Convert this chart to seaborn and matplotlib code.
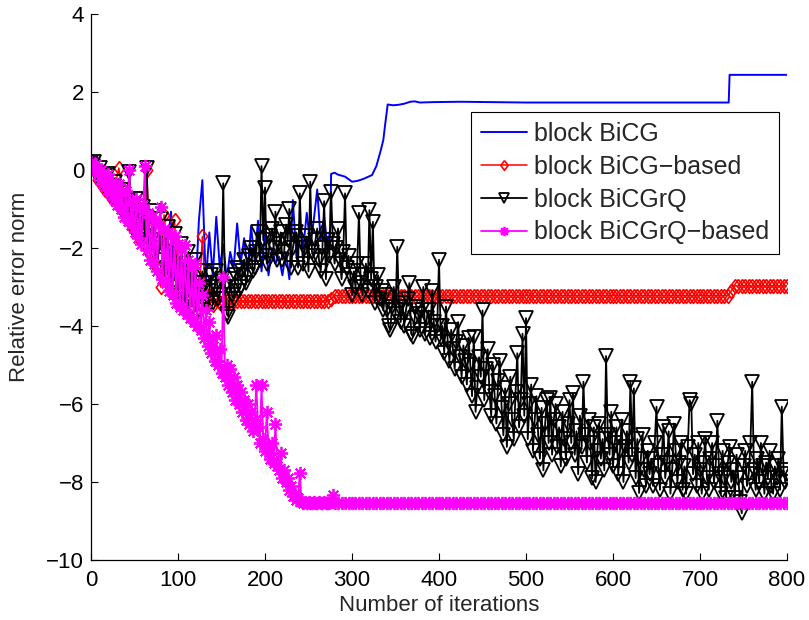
import numpy as np
import matplotlib
matplotlib.use("Agg")
import matplotlib.pyplot as plt
from matplotlib import font_manager
import seaborn as sns

# block BiCG: noisy start, then a smooth rise and a late jump
bicg_iter = list(range(0, 273, 4)) + [
    275, 276, 280, 284, 292, 300, 306, 313, 323, 328, 333, 336, 338, 340, 341,
    347, 353, 360, 367, 372, 378, 393, 424, 500, 600, 700, 733, 734, 800]
bicg_err = [
    0.1, -0.1, 0.0, -0.4, -0.2, -0.6, -0.4, -0.85, -0.5, -1.1,
    -0.7, -1.3, -0.9, -1.6, -1.1, -1.8, -1.3, -2.1, -1.5, -2.4,
    -1.7, -2.6, -1.9, -1.07, -2.8, -2.1, -3.0, -2.3, -3.1, -2.5,
    -3.2, -1.3, -0.26, -2.9, -1.6, -2.7, -1.2, -2.5, -1.9, -2.8,
    -2.1, -2.5, -1.37, -2.4, -1.75, -2.6, -1.45, -2.3, -1.3, -2.6,
    -1.6, -2.7, -2.0, -2.4, -2.22, -2.7, -2.1, -2.8, -0.77, -2.2,
    -1.4, -2.0, -1.1, -1.9, -1.3, -0.5, -1.8, -1.2, -2.0,
    -1.5, -0.1, -0.07, -0.12, -0.17, -0.3, -0.28, -0.23, -0.13, 0.1,
    0.5, 0.77, 1.15, 1.5, 1.68, 1.66, 1.67, 1.7, 1.75, 1.76,
    1.73, 1.74, 1.75, 1.73, 1.73, 1.73, 1.73, 2.44, 2.44]

# block BiCG-based (every 4th iteration)
bicg_based_iter = list(range(0, 801, 4))
bicg_based_err = [
    0.1, 0.0, -0.25, -0.05, -0.5, -0.2, -0.75, -0.35, 0.05, -0.6,
    -1.2, -0.7, -1.5, -0.9, -1.8, -1.1, 0.0, -2.1, -1.3, -2.5,
    -3.0, -1.15, -2.7, -1.8, -1.28, -3.1, -2.2, -3.3, -2.5, -3.5,
    -2.8, -3.4, -1.7, -3.5, -3.2, -3.45, -3.3, -3.4, -3.36,
    -3.36, -3.36, -3.36, -3.36, -3.36, -3.36, -3.36, -3.36, -3.36, -3.36,
    -3.36, -3.36, -3.36, -3.36, -3.36, -3.36, -3.36, -3.36, -3.36, -3.36,
    -3.36, -3.36, -3.36, -3.36, -3.36, -3.36, -3.36, -3.36, -3.36, -3.36,
    -3.3, -3.22,
    -3.22, -3.22, -3.22, -3.22, -3.22, -3.22, -3.22, -3.22, -3.22, -3.22,
    -3.22, -3.22, -3.22, -3.22, -3.22, -3.22, -3.22, -3.22, -3.22, -3.22,
    -3.22, -3.22, -3.22, -3.22, -3.22, -3.22, -3.22, -3.22, -3.22, -3.22,
    -3.22, -3.22, -3.22, -3.22, -3.22, -3.22, -3.22, -3.22, -3.22, -3.22,
    -3.22, -3.22, -3.22, -3.22, -3.22, -3.22, -3.22, -3.22, -3.22, -3.22,
    -3.22, -3.22, -3.22, -3.22, -3.22, -3.22, -3.22, -3.22, -3.22, -3.22,
    -3.22, -3.22, -3.22, -3.22, -3.22, -3.22, -3.22, -3.22, -3.22, -3.22,
    -3.22, -3.22, -3.22, -3.22, -3.22, -3.22, -3.22, -3.22, -3.22, -3.22,
    -3.22, -3.22, -3.22, -3.22, -3.22, -3.22, -3.22, -3.22, -3.22, -3.22,
    -3.22, -3.22, -3.22, -3.22, -3.22, -3.22, -3.22, -3.22, -3.22, -3.22,
    -3.22, -3.22, -3.22, -3.22, -3.22, -3.22, -3.22, -3.22, -3.22, -3.22,
    -3.22, -3.22, -3.22,
    -3.1, -2.97,
    -2.97, -2.97, -2.97, -2.97, -2.97, -2.97, -2.97, -2.97, -2.97, -2.97,
    -2.97, -2.97, -2.97, -2.97, -2.97]

# block BiCGrQ (every 2nd iteration)
bicgrq_iter = list(range(0, 801, 2))
bicgrq_err = [
    # 0 - 130
    0.15, 0.1, 0.2, -0.05, -0.2, 0.05, -0.1, -0.35, -0.45, -0.15,
    -0.1, -0.5, -0.7, -0.4, -0.3, -0.8, -0.95, -0.6, -0.5, -1.1,
    -1.25, -0.8, -0.05, -0.9, -1.5, -1.2, -0.75, -1.6, -1.8, -1.3,
    -0.95, -1.7, 0.05, -1.5, -2.2, -1.8, -1.05, -2.0, -2.5, -1.9,
    -1.25, -2.3, -2.8, -2.1, -1.45, -2.5, -3.0, -2.4, -1.65, -2.7,
    -3.3, -2.6, -1.9, -2.9, -3.4, -2.8, -2.1, -3.1, -3.5, -2.9,
    -2.3, -3.2, -3.6, -3.0, -2.6, -3.3,
    # 132 - 300
    -2.9, -3.5, -3.1, -2.7, -3.4, -3.0, -2.6, -3.3, -3.2, -2.8,
    -0.34, -3.0, -3.7, -3.76, -2.8, -3.2, -3.3, -2.7, -2.5, -3.1,
    -3.0, -2.6, -2.3, -2.9, -2.7, -2.2, -2.0, -2.6, -2.5, -2.1,
    -1.6, -2.3, 0.1, -1.8, -0.45, -2.4, -2.2, -1.7, -1.5, -2.0,
    -1.07, -2.3, -1.9, -1.6, -2.3, -2.1, -1.4, -1.8, -1.0, -2.5,
    -2.0, -1.7, -1.6, -2.5, -0.6, -1.9, -2.4, -2.0, -1.7, -2.6,
    -0.3, -2.1, -2.2, -1.8, -1.5, -2.3, -2.6, -2.0, -0.8, -2.8,
    -1.8, -2.2, -0.56, -1.9, -2.4, -2.0, -1.5, -2.3, -2.8, -2.1,
    -0.6, -2.5, -2.2, -2.7, -3.2,
    # 302 - 400
    -2.6, -3.0, -2.4, -1.1, -2.9, -3.2, -2.7, -2.4, -3.1, -1.03,
    -2.8, -1.33, -3.4, -3.0, -2.7, -3.3, -3.1, -3.6, -3.2, -3.6,
    -4.0, -4.1, -3.5, -3.0, -3.7, -1.97, -3.5, -3.9, -3.4, -4.0,
    -3.6, -3.3, -2.9, -4.2, -4.27, -3.8, -3.5, -3.7, -4.1, -3.6,
    -3.0, -4.2, -3.8, -3.6, -4.3, -3.1, -3.9, -4.4, -4.0, -2.3,
    # 402 - 640
    -4.3, -4.0, -4.7, -3.5, -4.4, -4.9, -4.1, -4.6, -5.1, -4.4,
    -3.9, -4.8, -5.3, -4.5, -4.9, -5.5, -4.3, -5.0, -5.8, -4.27,
    -6.2, -5.6, -4.8, -5.3, -3.6, -5.9, -5.1, -4.6, -5.7, -6.3,
    -5.0, -5.8, -6.5, -5.4, -4.9, -6.1, -6.8, -5.6, -7.1, -6.0,
    -5.3, -6.4, -6.9, -5.7, -4.7, -6.6, -5.9, -4.2, -6.3, -3.8,
    -6.9, -6.0, -5.5, -7.2, -6.4, -5.8, -6.8, -7.4, -6.1, -7.7,
    -6.5, -5.9, -7.0, -5.85, -7.3, -6.4, -6.0, -7.1, -6.6, -7.6,
    -6.2, -6.9, -7.4, -6.5, -5.9, -7.0, -5.73, -7.3, -6.7, -7.8,
    -6.3, -7.1, -5.43, -6.8, -7.5, -6.4, -7.0, -7.9, -6.6, -8.0,
    -7.2, -6.5, -7.4, -6.9, -7.7, -4.77, -6.8, -7.3, -6.2, -7.6,
    -7.0, -6.6, -7.8, -7.2, -6.4, -8.0, -7.1, -6.7, -7.5, -5.43,
    -7.3, -5.6, -7.9, -6.9, -8.28, -7.4, -6.8, -7.7, -8.1, -7.2,
    # 642 - 800
    -7.8, -7.4, -8.1, -7.0, -6.07, -7.6, -8.2, -7.3, -6.58, -7.9,
    -7.5, -6.7, -8.3, -7.7, -6.5, -7.2, -8.0, -7.5, -7.0, -8.2,
    -7.6, -8.3, -7.1, -5.9, -6.0, -7.8, -7.3, -8.1, -7.0, -7.7,
    -8.3, -7.5, -6.9, -7.9, -8.2, -7.4, -7.0, -8.0, -7.6, -6.43,
    -7.8, -8.3, -7.2, -7.9, -8.4, -7.5, -7.1, -8.0, -7.7, -8.4,
    -7.3, -7.9, -8.5, -8.8, -7.6, -7.2, -8.1, -7.8, -7.0, -5.43,
    -7.7, -8.2, -7.4, -8.0, -7.0, -7.6, -8.3, -7.5, -7.9, -7.2,
    -8.1, -8.3, -7.6, -7.9, -7.4, -8.2, -6.07, -7.7, -8.0, -7.8]

# block BiCGrQ-based (every 2nd iteration up to 280, then every 4th)
bicgrq_based_iter = list(range(0, 281, 2)) + list(range(284, 801, 4))
bicgrq_based_err = [
    0.2, 0.1, 0.0, 0.15, -0.1, -0.25, 0.0, -0.35, -0.2, -0.5,
    -0.1, -0.6, -0.3, -0.75, -0.45, -0.9, -0.35, -1.0, -0.6, -1.2,
    -0.55, -1.3, 0.0, -1.4, -0.8, -1.6, -0.75, -1.75, -1.0, -1.9,
    -0.9, 0.1, -2.05, -1.1, -2.3, -1.2, -2.4, -1.3, -2.6, -1.4,
    -0.94, -2.8, -1.5, -2.9, -1.6, -3.1, -1.7, -3.2, -1.7, -3.4,
    -1.9, -3.5, -2.0, -3.6, -1.92, -3.7, -2.3, -3.8, -2.5, -3.9,
    -2.4, -4.0, -2.9, -4.1, -3.2, -4.3, -3.6, -4.5, -3.9, -4.7,
    -4.3, -4.9, -4.23, -5.0, -4.6, -5.2, -2.74, -5.3, -5.0, -5.5,
    -5.1, -5.7, -5.3, -5.9, -5.5, -6.0, -5.7, -6.2, -5.9, -6.4,
    -6.0, -6.5, -6.2, -6.7, -6.4, -5.5, -6.6, -7.0, -5.5, -6.9,
    -7.2, -6.2, -7.1, -7.4, -7.0, -7.5, -6.5, -7.6, -7.7, -7.25,
    -7.9, -7.7, -8.0, -7.9, -8.2, -8.1, -8.35, -8.3, -8.45, -8.4,
    -7.76, -8.5, -8.55, -8.5, -8.54, -8.5, -8.55, -8.54, -8.5, -8.54,
    -8.55, -8.5, -8.54, -8.54, -8.5, -8.54, -8.55, -8.54, -8.5, -8.33,
    -8.54,
    -8.54, -8.54, -8.54, -8.54, -8.54, -8.54, -8.54, -8.54, -8.54, -8.54,
    -8.54, -8.54, -8.54, -8.54, -8.54, -8.54, -8.54, -8.54, -8.54, -8.54,
    -8.54, -8.54, -8.54, -8.54, -8.54, -8.54, -8.54, -8.54, -8.54, -8.54,
    -8.54, -8.54, -8.54, -8.54, -8.54, -8.54, -8.54, -8.54, -8.54, -8.54,
    -8.54, -8.54, -8.54, -8.54, -8.54, -8.54, -8.54, -8.54, -8.54, -8.54,
    -8.54, -8.54, -8.54, -8.54, -8.54, -8.54, -8.54, -8.54, -8.54, -8.54,
    -8.54, -8.54, -8.54, -8.54, -8.54, -8.54, -8.54, -8.54, -8.54, -8.54,
    -8.54, -8.54, -8.54, -8.54, -8.54, -8.54, -8.54, -8.54, -8.54, -8.54,
    -8.54, -8.54, -8.54, -8.54, -8.54, -8.54, -8.54, -8.54, -8.54, -8.54,
    -8.54, -8.54, -8.54, -8.54, -8.54, -8.54, -8.54, -8.54, -8.54, -8.54,
    -8.54, -8.54, -8.54, -8.54, -8.54, -8.54, -8.54, -8.54, -8.54, -8.54,
    -8.54, -8.54, -8.54, -8.54, -8.54, -8.54, -8.54, -8.54, -8.54, -8.54,
    -8.54, -8.54, -8.54, -8.54, -8.54, -8.54, -8.54, -8.54, -8.54, -8.54]

series_labels = ["block BiCG", "block BiCG\u2212based", "block BiCGrQ",
                 "block BiCGrQ\u2212based"]
x_ticks = [0, 100, 200, 300, 400, 500, 600, 700, 800]
y_ticks = [-10, -8, -6, -4, -2, 0, 2, 4]

for xs, ys in ((bicg_iter, bicg_err), (bicg_based_iter, bicg_based_err),
               (bicgrq_iter, bicgrq_err),
               (bicgrq_based_iter, bicgrq_based_err)):
    assert len(xs) == len(ys), (len(xs), len(ys))

sns.set_theme(style="white", rc={
    "xtick.direction": "in", "ytick.direction": "in",
    "xtick.bottom": True, "ytick.left": True,
    "axes.edgecolor": "black", "axes.linewidth": 0.9,
})
names = {f.name for f in font_manager.fontManager.ttflist}
family = "Liberation Sans" if "Liberation Sans" in names else "DejaVu Sans"
plt.rcParams["font.family"] = [family, "DejaVu Sans"]

fig = plt.figure(figsize=(8.09, 6.2), dpi=100)
ax = fig.add_axes([91 / 809, 60 / 620, 696 / 809, 546 / 620])

diamond = [(0, 1), (0.75, 0), (0, -1), (-0.75, 0), (0, 1)]

sns.lineplot(x=bicg_iter, y=bicg_err, ax=ax, color="#0000FF", linewidth=1.4,
             estimator=None, sort=False, label=series_labels[0], legend=False)
sns.lineplot(x=bicg_based_iter, y=bicg_based_err, ax=ax, color="#FF0000",
             linewidth=1.1, marker=diamond, markersize=10,
             markerfacecolor="none", markeredgecolor="#FF0000",
             markeredgewidth=1.2, estimator=None, sort=False,
             label=series_labels[1], legend=False)
sns.lineplot(x=bicgrq_iter, y=bicgrq_err, ax=ax, color="black",
             linewidth=1.3, marker="v", markersize=9.5,
             markerfacecolor="none", markeredgecolor="black",
             markeredgewidth=1.3, estimator=None, sort=False,
             label=series_labels[2], legend=False)
sns.lineplot(x=bicgrq_based_iter, y=bicgrq_based_err, ax=ax, color="#FF00FF",
             linewidth=1.3, marker=(8, 2, 0), markersize=9.5,
             markeredgecolor="#FF00FF", markeredgewidth=1.3,
             estimator=None, sort=False, label=series_labels[3], legend=False)

ax.set_xlim(0, 800)
ax.set_ylim(-10, 4)
ax.set_xticks(x_ticks)
ax.set_yticks(y_ticks)
ax.tick_params(axis="both", direction="in", length=5, width=0.8,
               labelsize=16, colors="black")
ax.tick_params(axis="x", pad=7)
ax.tick_params(axis="y", pad=5)
sns.despine(ax=ax, top=True, right=True)

ax.set_xlabel("Number of iterations", fontsize=16)
ax.set_ylabel("Relative error norm", fontsize=16)
ax.xaxis.set_label_coords(0.5, -0.064)
ax.yaxis.set_label_coords(-0.0876, 0.5)

handles, labels = ax.get_legend_handles_labels()
leg = ax.legend(handles, labels, loc="upper right",
                bbox_to_anchor=(0.9885, 0.8205), fontsize=18,
                frameon=True, fancybox=False, framealpha=1,
                edgecolor="black", handlelength=1.85, handletextpad=0.28,
                labelspacing=0.35, borderpad=0.4, borderaxespad=0,
                numpoints=1, markerscale=0.7)
leg.get_frame().set_linewidth(0.8)

fig.savefig("out.png", dpi=100)
